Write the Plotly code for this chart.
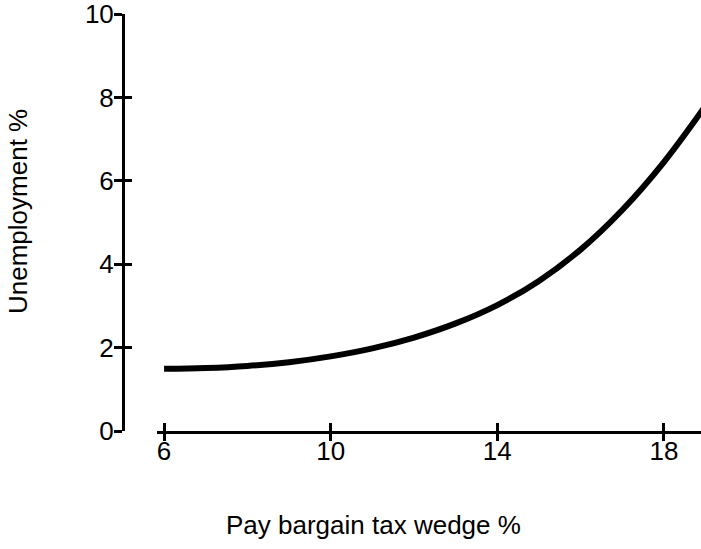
import plotly.graph_objects as go

# Data
tax_wedge = [6, 7, 8, 9, 10, 11, 12, 13, 14, 15, 16, 17, 18, 19]
unemployment = [1.49, 1.51, 1.56, 1.65, 1.79, 1.98, 2.24, 2.58, 3.02, 3.6, 4.35, 5.3, 6.45, 7.8]

x_ticks = [6, 10, 14, 18]
y_ticks = [0, 2, 4, 6, 8, 10]
x_range = [5.83, 18.89]
y_range = [0, 10]

FONT = "Liberation Sans, Arial, sans-serif"

W, H = 701, 549
ML, MR, MT, MB = 123, 0, 14, 118
plot_w = W - ML - MR
x_dom_start = (157 - ML) / plot_w

fig = go.Figure()
fig.add_trace(go.Scatter(
    x=tax_wedge, y=unemployment, mode="lines",
    line=dict(color="black", width=6, shape="spline"),
    xaxis="x", yaxis="y", showlegend=False, hoverinfo="skip",
))
# same curve, invisible, on overlay axes so their (inside) ticks are drawn
fig.add_trace(go.Scatter(
    x=tax_wedge, y=unemployment, mode="lines",
    line=dict(color="rgba(0,0,0,0)", width=1),
    xaxis="x2", yaxis="y2", showlegend=False, hoverinfo="skip",
))

tickfont = dict(family=FONT, size=26, color="black")

tick_style = dict(showgrid=False, zeroline=False, tickwidth=3, tickcolor="black")

fig.update_layout(
    width=W, height=H,
    margin=dict(l=ML, r=MR, t=MT, b=MB),
    paper_bgcolor="white", plot_bgcolor="white",
    showlegend=False,
    xaxis=dict(**tick_style, range=x_range, domain=[x_dom_start, 1], tickvals=x_ticks,
               anchor="y", showline=True, linewidth=3, linecolor="black",
               ticks="outside", ticklen=7, tickfont=tickfont, ticklabelstandoff=-12,
               ticklabeloverflow="allow"),
    xaxis2=dict(**tick_style, range=x_range, tickvals=x_ticks, overlaying="x",
                anchor="y2", showline=False, ticks="inside", ticklen=8,
                showticklabels=False),
    yaxis=dict(**tick_style, range=y_range, tickvals=y_ticks, anchor="free", position=0,
               showline=True, linewidth=3, linecolor="black", ticks="outside",
               ticklen=8, tickfont=tickfont, ticklabelstandoff=-5,
               ticklabeloverflow="allow"),
    yaxis2=dict(**tick_style, range=y_range, tickvals=y_ticks, overlaying="y",
                anchor="free", position=0, side="left", showline=False,
                ticks="inside", ticklen=8, showticklabels=False),
    annotations=[
        dict(text="Pay bargain tax wedge %", xref="paper", yref="paper",
             x=(373 - ML) / plot_w, y=-(525 - (H - MB)) / (H - MT - MB),
             xanchor="center", yanchor="middle", showarrow=False,
             font=dict(family=FONT, size=26, color="black")),
        dict(text="Unemployment %", xref="paper", yref="paper",
             x=-(ML - 18) / plot_w, y=1 - (212 - MT) / (H - MT - MB),
             xanchor="center", yanchor="middle", textangle=-90, showarrow=False,
             font=dict(family=FONT, size=26, color="black")),
    ],
)

fig.write_html(
    "out.html",
    config={"displayModeBar": False},
    post_script="document.body.style.margin='0';document.body.style.overflow='hidden';",
)
